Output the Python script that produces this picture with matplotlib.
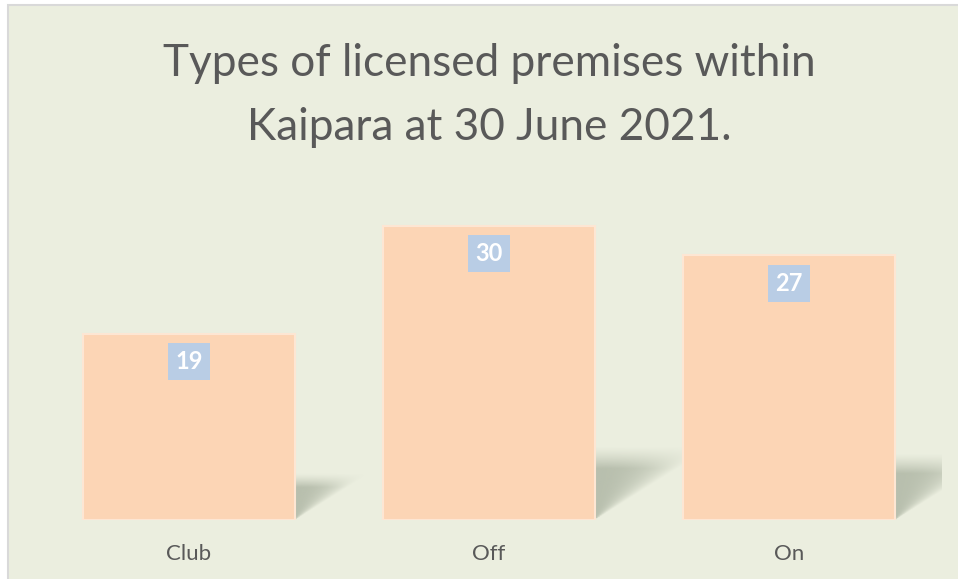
import matplotlib.pyplot as plt
import numpy as np
from matplotlib.patches import Rectangle, Polygon

plt.rcParams['font.family'] = ['Lato', 'DejaVu Sans']

title = "Types of licensed premises within\nKaipara at 30 June 2021."
categories = ["Club", "Off", "On"]
counts = [19, 30, 27]

bg = '#EBEEDF'
bar_color = '#FCD5B5'
label_bg = '#B9CDE5'
text_gray = '#595959'

fig = plt.figure(figsize=(9.58, 5.79), dpi=100)
fig.patch.set_facecolor('white')
fig.patches.append(Rectangle((8 / 958, -0.01), 1, (579 - 5) / 579 + 0.01,
                             transform=fig.transFigure, facecolor=bg,
                             edgecolor='#D9D9D9', linewidth=1.5, zorder=-1))

ax = fig.add_axes([39 / 958, 59 / 579, 903 / 958, 343 / 579])
ax.patch.set_alpha(0)
for sp in ax.spines.values():
    sp.set_visible(False)

x = np.arange(len(categories))
width = 0.707
ymax = 35
px_per_unit = 343 / ymax

# perspective shadows behind the bars
shadow_rgb = np.array([170, 178, 160]) / 255
for xi, h in zip(x, counts):
    L, R = xi - width / 2, xi + width / 2
    s = 0.4 * h * px_per_unit / 300
    hs = 0.25 * h
    poly = Polygon([(L, 0), (R, 0), (R + s, hs), (L + s, hs)], closed=True,
                   facecolor='none', edgecolor='none', transform=ax.transData)
    ax.add_patch(poly)
    ny, nx = 80, 160
    v = np.linspace(0, 1, ny)[:, None]
    u = np.linspace(0, 1, nx)[None, :]
    xs = L + u * (R + s - L)
    row_r = R + v * s
    tip = np.clip((xs - R) / np.maximum(row_r - R, 1e-9), 0, 1)
    top = np.clip((1 - v) / 0.3, 0, 1) ** 1.3
    alpha = 0.78 * top * (1 - tip ** 2.5)
    img = np.zeros((ny, nx, 4))
    img[..., :3] = shadow_rgb
    img[..., 3] = np.clip(alpha, 0, 1)
    im = ax.imshow(img, extent=[L, R + s, 0, hs], origin='lower',
                   aspect='auto', interpolation='bilinear', zorder=1)
    im.set_clip_path(poly)

ax.bar(x, counts, width=width, color=bar_color, edgecolor='#FDE6D3',
       linewidth=1.5, zorder=3)

for xi, v in zip(x, counts):
    ax.annotate(str(v), (xi, v), xytext=(0, -20), textcoords='offset points',
                ha='center', va='center', color='white', fontweight='bold',
                fontsize=17, zorder=5,
                bbox=dict(boxstyle='square,pad=0.3', facecolor=label_bg,
                          edgecolor='none'))

ax.set_xlim(-0.5, 2.51)
ax.set_ylim(0, ymax)
ax.set_xticks(x, categories)
ax.set_yticks([])
ax.tick_params(axis='x', length=0, pad=17, labelsize=16, labelcolor=text_gray)

fig.text(489 / 958, 1 - 43 / 579, title, ha='center', va='top',
         fontsize=31.8, color=text_gray, linespacing=1.7)

fig.savefig('out.png', dpi=100, facecolor=fig.get_facecolor())
